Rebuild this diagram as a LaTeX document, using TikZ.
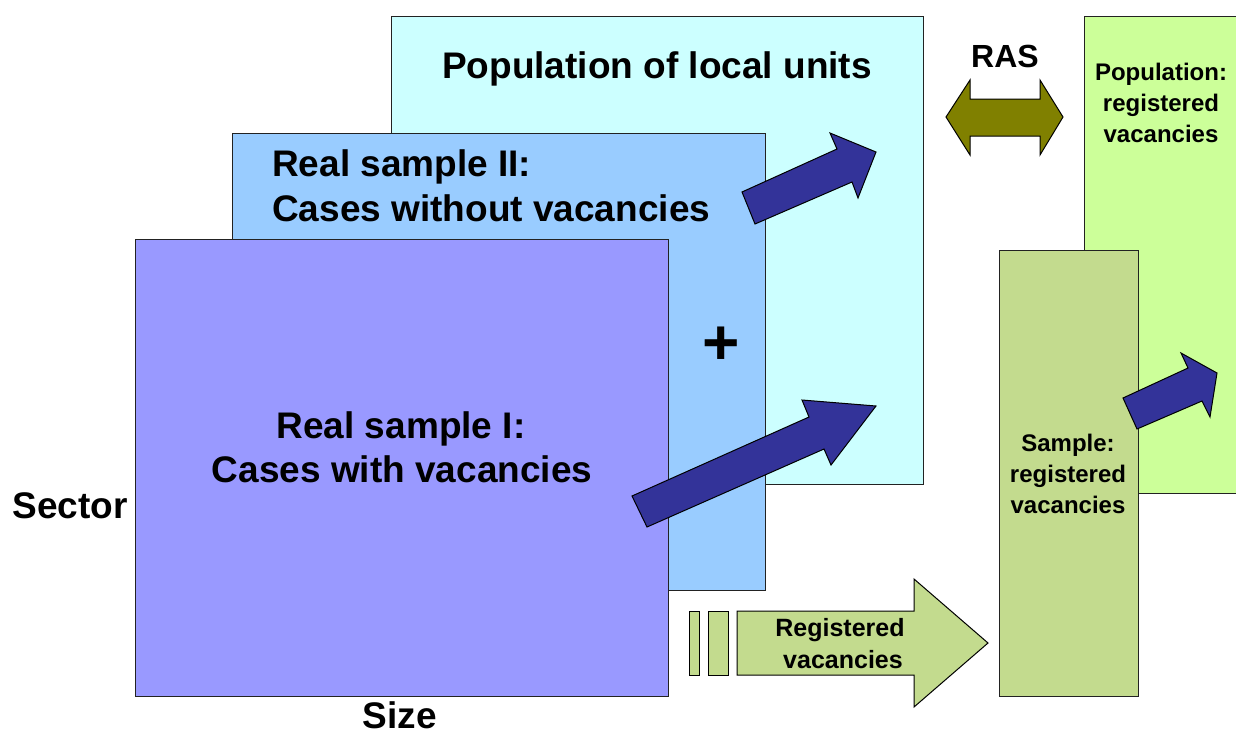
\documentclass[tikz,border=0pt]{standalone}
\usepackage{fontspec}
\setmainfont{Liberation Sans}
\definecolor{lavender}{HTML}{9999FF}
\definecolor{skyblue}{HTML}{99CCFF}
\definecolor{paleCyan}{HTML}{CCFFFF}
\definecolor{paleGreen}{HTML}{CCFF99}
\definecolor{sageGreen}{HTML}{C3DB8E}
\definecolor{olivebrown}{HTML}{808000}
\definecolor{navyblue}{HTML}{333399}
\definecolor{edgegray}{HTML}{222222}
\begin{document}
\begin{tikzpicture}[x=1pt,y=-1pt,
  box/.style={draw=edgegray,line width=1.1pt,inner sep=0pt,anchor=north west},
  blockarrow/.style={draw=black,line width=1pt,line join=miter,fill=navyblue},
  big/.style={font=\fontsize{37}{44}\selectfont\bfseries,inner sep=0pt},
  small/.style={font=\fontsize{24}{30}\selectfont\bfseries,inner sep=0pt},
  lbl/.style={anchor=base,inner sep=0pt}]
\clip (0,0) rectangle (1236,731);
\fill[white] (0,0) rectangle (1236,731);

% stacked frames: population, sample II, sample I
\node[box,fill=paleCyan,minimum width=532pt,minimum height=468pt] (popl) at (391,16) {};
\node[box,fill=skyblue,minimum width=533pt,minimum height=457pt] (rs2) at (232,133) {};
\node[box,fill=lavender,minimum width=533pt,minimum height=457pt] (rs1) at (135,239) {};

\node[big,lbl] (popt) at (657,78) {Population of local units};
\node[big,lbl,anchor=base west] (rs2a) at (272,176) {Real sample II:};
\node[big,lbl,anchor=base west] (rs2b) at (272,221) {Cases without vacancies};
\node[big,lbl] (rs1a) at (401,438) {Real sample I:};
\node[big,lbl] (rs1b) at (402,482) {Cases with vacancies};
\node[font=\fontsize{64}{70}\selectfont\bfseries,lbl] (plus) at (721,364) {+};
\node[big,lbl] (sector) at (70,518) {Sector};
\node[big,lbl] (size) at (400,728) {Size};

% block arrows pointing into the population frame
\draw[blockarrow] (742,192) -- (837,149) -- (830,133) -- (876,152) -- (858,198) -- (852,182) -- (755,224) -- cycle;
\draw[blockarrow] (632,496) -- (809,417) -- (802,400) -- (876,406) -- (831,465) -- (824,449) -- (647,527) -- cycle;

% register side
\node[box,fill=paleGreen,minimum width=170pt,minimum height=477pt] (popr) at (1084,16) {};
\node[box,fill=sageGreen,minimum width=139pt,minimum height=446pt] (samp) at (999,250) {};

\node[small,lbl] (popr1) at (1161,80) {Population:};
\node[small,lbl] (popr2) at (1161,111) {registered};
\node[small,lbl] (popr3) at (1161,142) {vacancies};
\node[small,lbl] (samp1) at (1068,451) {Sample:};
\node[small,lbl] (samp2) at (1068,482) {registered};
\node[small,lbl] (samp3) at (1068,513) {vacancies};

\draw[blockarrow] (1123,398) -- (1188,368) -- (1181,353) -- (1217,373) -- (1210,417) -- (1202,401) -- (1137,429) -- cycle;

% RAS double arrow
\node[font=\fontsize{32}{38}\selectfont\bfseries,lbl] (ras) at (1005,67) {RAS};
\draw[draw=black,line width=1pt,fill=olivebrown] (946,117) -- (970,80) -- (970,99) -- (1040,99) -- (1040,80) -- (1063,117) -- (1040,155) -- (1040,136) -- (970,136) -- (970,155) -- cycle;

% registered vacancies arrow with trailing bars
\draw[draw=black,line width=1pt,fill=sageGreen] (689,611) rectangle (699,675);
\draw[draw=black,line width=1pt,fill=sageGreen] (708,611) rectangle (728,675);
\draw[draw=black,line width=1pt,fill=sageGreen] (737,611) -- (914,611) -- (914,579) -- (988,643) -- (914,707) -- (914,675) -- (737,675) -- cycle;
\node[font=\fontsize{25}{30}\selectfont\bfseries,lbl] (reg1) at (840,636) {Registered};
\node[font=\fontsize{25}{30}\selectfont\bfseries,lbl] (reg2) at (843,668) {vacancies};
\end{tikzpicture}
\end{document}
